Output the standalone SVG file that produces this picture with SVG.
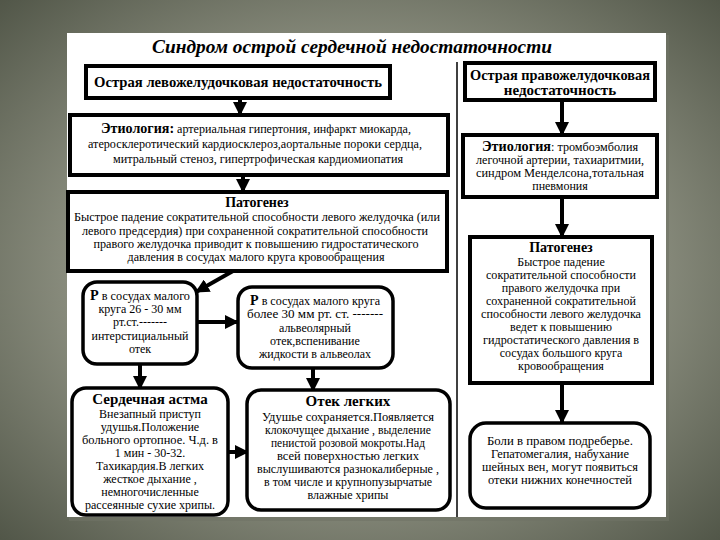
<svg xmlns="http://www.w3.org/2000/svg" width="720" height="540" viewBox="0 0 720 540">
<defs>
<radialGradient id="bg" cx="50%" cy="50%" r="72%">
<stop offset="0" stop-color="#a0a294"/>
<stop offset="0.55" stop-color="#8a8d7e"/>
<stop offset="1" stop-color="#4f5446"/>
</radialGradient>
<marker id="ah" markerUnits="userSpaceOnUse" markerWidth="14" markerHeight="14" viewBox="0 0 14 14" refX="13" refY="7" orient="auto">
<path d="M0,0 L14,7 L0,14 z" fill="#000"/>
</marker>
</defs>
<style>
.box{fill:#fff;stroke:#000;stroke-width:4}
.rbox{fill:#fff;stroke:#000;stroke-width:3.5}
.t{font-family:"Liberation Serif","DejaVu Serif",serif;font-size:12px;fill:#000;text-anchor:middle}
.h{font-family:"Liberation Serif","DejaVu Serif",serif;font-size:15px;font-weight:bold;fill:#000;text-anchor:middle}
.ph{font-family:"Liberation Serif","DejaVu Serif",serif;font-size:14px;font-weight:bold;fill:#000;text-anchor:middle}
.b{font-weight:bold;font-size:14px}
.con{stroke:#000;stroke-width:4;fill:none;marker-end:url(#ah)}
</style>
<rect x="0" y="0" width="720" height="540" fill="url(#bg)"/>
<rect x="69" y="35" width="600" height="486" fill="#6f7365" opacity="0.6"/>
<rect x="67" y="33" width="599" height="484" fill="#fff"/>
<text x="352" y="53" font-family="Liberation Serif, DejaVu Serif, serif" font-size="19" font-style="italic" font-weight="bold" text-anchor="middle" textLength="400" lengthAdjust="spacingAndGlyphs">Синдром острой сердечной недостаточности</text>
<line x1="457" y1="62" x2="457" y2="517" stroke="#000" stroke-width="1.5"/>

<g id="connectors">
<line class="con" x1="240" y1="98" x2="240" y2="115"/>
<line class="con" x1="243" y1="175" x2="243" y2="192"/>
<line class="con" x1="233" y1="271" x2="196" y2="292"/>
<line class="con" x1="197" y1="322" x2="238" y2="322"/>
<line class="con" x1="140" y1="365" x2="140" y2="389"/>
<line class="con" x1="313" y1="369" x2="313" y2="391"/>
<line class="con" x1="228" y1="452" x2="248" y2="452"/>
<line class="con" x1="562" y1="100" x2="562" y2="135"/>
<line class="con" x1="562" y1="197" x2="562" y2="237"/>
<line class="con" x1="562" y1="383" x2="562" y2="423"/>
</g>

<g id="n_left_header">
<rect class="box" x="86" y="66" width="304" height="32"/>
<text class="h" x="238" y="87" textLength="288" lengthAdjust="spacingAndGlyphs">Острая левожелудочковая недостаточность</text>
</g>

<g id="n_left_etiology">
<rect class="box" x="70" y="115" width="378" height="60"/>
<text class="t" x="256" y="133" textLength="310" lengthAdjust="spacingAndGlyphs"><tspan class="b">Этиология:</tspan> артериальная гипертония, инфаркт миокарда,</text>
<text class="t" x="255" y="148" textLength="334" lengthAdjust="spacingAndGlyphs">атеросклеротический кардиосклероз,аортальные пороки сердца,</text>
<text class="t" x="258" y="163" textLength="290" lengthAdjust="spacingAndGlyphs">митральный стеноз, гипертрофическая кардиомиопатия</text>
</g>

<g id="n_left_patho">
<rect class="box" x="68" y="192" width="379" height="79"/>
<text class="ph" x="257" y="207">Патогенез</text>
<text class="t" x="257" y="221" textLength="366" lengthAdjust="spacingAndGlyphs">Быстрое падение сократительной способности левого желудочка (или</text>
<text class="t" x="255" y="235" textLength="346" lengthAdjust="spacingAndGlyphs">левого предсердия) при сохраненной сократительной способности</text>
<text class="t" x="256" y="248" textLength="325" lengthAdjust="spacingAndGlyphs">правого желудочка приводит к повышению гидростатического</text>
<text class="t" x="256" y="261" textLength="257" lengthAdjust="spacingAndGlyphs">давления в сосудах малого круга кровообращения</text>
</g>

<g id="n_p1">
<rect class="rbox" x="83" y="282" width="114" height="82" rx="14"/>
<text class="t" x="140" y="300" textLength="100" lengthAdjust="spacingAndGlyphs"><tspan class="b">Р</tspan> в сосудах малого</text>
<text class="t" x="140" y="313">круга 26 - 30 мм</text>
<text class="t" x="140" y="326">рт.ст.-------</text>
<text class="t" x="140" y="340">интерстициальный</text>
<text class="t" x="140" y="353">отек</text>
</g>

<g id="n_p2">
<rect class="rbox" x="238" y="287" width="155" height="81" rx="14"/>
<text class="t" x="315" y="305" textLength="130" lengthAdjust="spacingAndGlyphs"><tspan class="b">Р</tspan> в сосудах малого круга</text>
<text class="t" x="315" y="318" textLength="136" lengthAdjust="spacingAndGlyphs">более 30 мм рт. ст. -------</text>
<text class="t" x="315" y="332">альвеолярный</text>
<text class="t" x="315" y="345">отек,вспенивание</text>
<text class="t" x="315" y="358">жидкости в альвеолах</text>
</g>

<g id="n_asthma">
<rect class="rbox" x="72" y="388" width="156" height="127" rx="14"/>
<text class="h" x="150" y="404">Сердечная астма</text>
<text class="t" x="150" y="418">Внезапный приступ</text>
<text class="t" x="150" y="431">удушья.Положение</text>
<text class="t" x="150" y="444" textLength="136" lengthAdjust="spacingAndGlyphs">больного ортопное. Ч.д. в</text>
<text class="t" x="150" y="457">1 мин - 30-32.</text>
<text class="t" x="150" y="470">Тахикардия.В легких</text>
<text class="t" x="150" y="483">жесткое дыхание ,</text>
<text class="t" x="150" y="496">немногочисленные</text>
<text class="t" x="150" y="509" textLength="130" lengthAdjust="spacingAndGlyphs">рассеянные сухие хрипы.</text>
</g>

<g id="n_edema">
<rect class="rbox" x="247" y="390" width="203" height="120" rx="14"/>
<text class="h" x="348" y="406">Отек легких</text>
<text class="t" x="348" y="421" textLength="172" lengthAdjust="spacingAndGlyphs">Удушье сохраняется.Появляется</text>
<text class="t" x="348" y="434" textLength="166" lengthAdjust="spacingAndGlyphs">клокочущее дыхание , выделение</text>
<text class="t" x="348" y="447" textLength="154" lengthAdjust="spacingAndGlyphs">пенистой розовой мокроты.Над</text>
<text class="t" x="348" y="460" textLength="142" lengthAdjust="spacingAndGlyphs">всей поверхностью легких</text>
<text class="t" x="348" y="473" textLength="182" lengthAdjust="spacingAndGlyphs">выслушиваются разнокалиберные ,</text>
<text class="t" x="348" y="486" textLength="168" lengthAdjust="spacingAndGlyphs">в том числе и крупнопузырчатые</text>
<text class="t" x="348" y="499">влажные хрипы</text>
</g>

<g id="n_right_header">
<rect class="box" x="465" y="63" width="190" height="37"/>
<text class="h" x="560" y="80" textLength="180" lengthAdjust="spacingAndGlyphs">Острая правожелудочковая</text>
<text class="h" x="560" y="95">недостаточность</text>
</g>

<g id="n_right_etiology">
<rect class="box" x="463" y="135" width="194" height="62"/>
<text class="t" x="560" y="151" textLength="156" lengthAdjust="spacingAndGlyphs"><tspan class="b">Этиология</tspan>: тромбоэмболия</text>
<text class="t" x="560" y="164" textLength="168" lengthAdjust="spacingAndGlyphs">легочной артерии, тахиаритмии,</text>
<text class="t" x="560" y="177" textLength="168" lengthAdjust="spacingAndGlyphs">синдром Менделсона,тотальная</text>
<text class="t" x="560" y="190">пневмония</text>
</g>

<g id="n_right_patho">
<rect class="box" x="470" y="237" width="182" height="146"/>
<text class="ph" x="561" y="252">Патогенез</text>
<text class="t" x="561" y="266">Быстрое падение</text>
<text class="t" x="561" y="279" textLength="150" lengthAdjust="spacingAndGlyphs">сократительной способности</text>
<text class="t" x="561" y="292">правого желудочка при</text>
<text class="t" x="561" y="305" textLength="150" lengthAdjust="spacingAndGlyphs">сохраненной сократительной</text>
<text class="t" x="561" y="318" textLength="160" lengthAdjust="spacingAndGlyphs">способности левого желудочка</text>
<text class="t" x="561" y="331">ведет к повышению</text>
<text class="t" x="561" y="344" textLength="156" lengthAdjust="spacingAndGlyphs">гидростатического давления в</text>
<text class="t" x="561" y="357">сосудах большого круга</text>
<text class="t" x="561" y="370">кровообращения</text>
</g>

<g id="n_right_bottom">
<rect class="rbox" x="470" y="423" width="180" height="85" rx="16"/>
<text class="t" x="560" y="445" textLength="146" lengthAdjust="spacingAndGlyphs">Боли в правом подреберье.</text>
<text class="t" x="560" y="458" textLength="138" lengthAdjust="spacingAndGlyphs">Гепатомегалия, набухание</text>
<text class="t" x="560" y="471" textLength="156" lengthAdjust="spacingAndGlyphs">шейных вен, могут появиться</text>
<text class="t" x="560" y="484" textLength="144" lengthAdjust="spacingAndGlyphs">отеки нижних конечностей</text>
</g>
</svg>
